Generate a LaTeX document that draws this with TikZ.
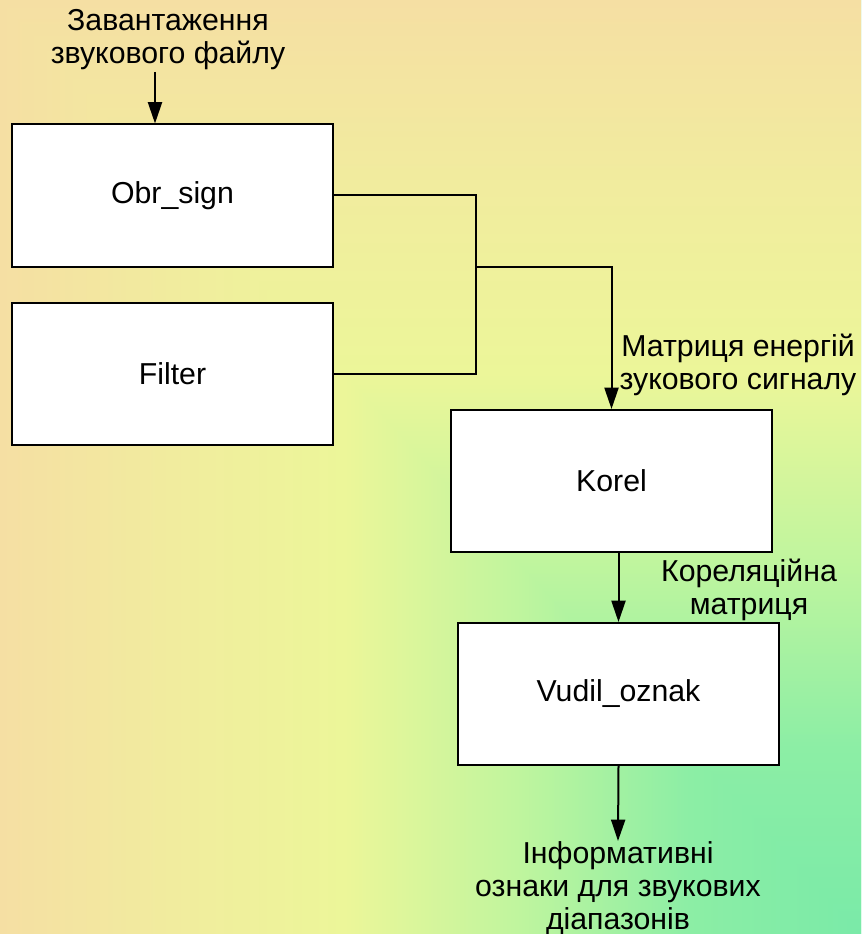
\documentclass[tikz,border=0pt]{standalone}
\usepackage{fontspec}
\setmainfont{Liberation Sans}
\usetikzlibrary{arrows.meta}
\definecolor{bgtan}{RGB}{245,223,163}
\definecolor{bgbeige}{RGB}{241,236,158}
\definecolor{bgyellow}{RGB}{236,246,153}
\definecolor{bglime}{RGB}{192,245,158}
\definecolor{bgmint}{RGB}{140,238,165}
\definecolor{bggreen}{RGB}{122,234,168}
% background: rectangular gradient from the lower right corner
\pgfdeclarehorizontalshading{bgrow}{100bp}{%
  color(0bp)=(bgtan); color(25bp)=(bgtan); color(35bp)=(bgbeige);
  color(45bp)=(bgyellow); color(55bp)=(bglime); color(65bp)=(bgmint);
  color(75bp)=(bggreen); color(100bp)=(bggreen)}
\pgfdeclareverticalshading{bgcol}{100bp}{%
  color(0bp)=(bggreen); color(25bp)=(bggreen); color(35bp)=(bgmint);
  color(45bp)=(bglime); color(55bp)=(bgyellow); color(65bp)=(bgbeige);
  color(75bp)=(bgtan); color(100bp)=(bgtan)}
\tikzset{
  block/.style={draw=black, fill=white, line width=1.5pt, minimum width=240.75pt,
    minimum height=106.5pt, inner sep=0pt},
  lbl/.style={align=center, inner sep=0pt},
  flow/.style={-{Triangle[width=10.5pt,length=16pt]}}
}
\begin{document}
\begin{tikzpicture}[x=0.75pt, y=-0.75pt, font=\fontsize{22.7}{24.75}\selectfont]
  \useasboundingbox (0,0) rectangle (861,934);
  \shade[shading=bgrow] (0,0) rectangle (861,934);
  \shade[shading=bgcol] (0,0) -- (861,0) -- (861,934) -- cycle;
  \draw
    (172.5,195.5) node[block] (obr){Obr\_sign}
    (172.5,374) node[block] (filter){Filter}
    (611.5,481) node[block] (korel){Korel}
    (618.5,694) node[block] (vudil){Vudil\_oznak};
  \node[lbl] (load) at (168,40) {Завантаження\\звукового файлу};
  \node[lbl] (energy) at (738,365) {Матриця енергій\\зукового сигналу};
  \node[lbl] (corr) at (749,590) {Кореляційна\\матриця};
  \node[lbl, anchor=north] (info) at (618,841) {Інформативні\\ознаки для звукових\\діапазонів};
  \coordinate (in) at (155,72);
  \coordinate (jn) at (476,267);
  \begin{scope}[line width=1.5pt]
    \draw[flow] (in) -- (in |- obr.north);
    \draw (obr.east) -| (jn);
    \draw (filter.east) -| (jn);
    \draw[flow] (jn) -| (korel.north);
    \draw[flow] (korel.south -| vudil.north) -- (vudil.north);
    \draw[flow] (vudil.south) -- (info.north);
  \end{scope}
\end{tikzpicture}
\end{document}
